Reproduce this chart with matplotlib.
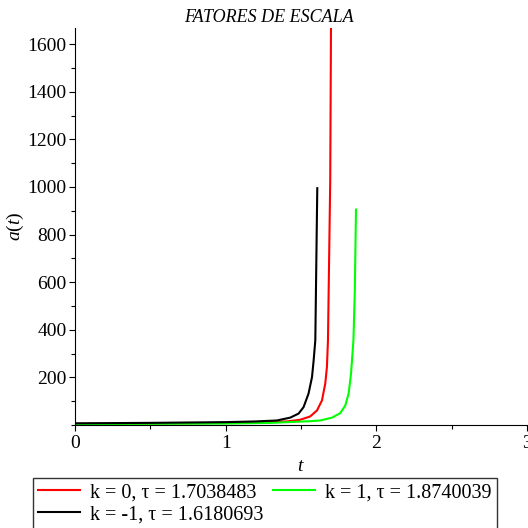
import matplotlib
matplotlib.use("Agg")
import matplotlib.pyplot as plt
from matplotlib.ticker import MultipleLocator

# k = 0
t_k0 = [0.0, 0.5, 1.0, 1.25, 1.407, 1.495, 1.561, 1.606, 1.639, 1.661, 1.672, 1.679, 1.694, 1.699]
a_k0 = [5, 6, 9, 12, 15, 22, 36, 61, 103, 174, 243, 356, 1028, 1668]
# k = 1
t_k1 = [0.0, 0.5, 1.0, 1.3, 1.561, 1.628, 1.706, 1.761, 1.794, 1.816, 1.832, 1.848, 1.857, 1.865]
a_k1 = [4, 5, 6, 9, 16, 19, 31, 50, 82, 132, 216, 356, 560, 905]
# k = -1
t_km1 = [0.0, 0.5, 1.0, 1.2, 1.340, 1.429, 1.484, 1.517, 1.550, 1.573, 1.584, 1.595, 1.608]
a_km1 = [7, 9, 12, 15, 19, 31, 48, 75, 132, 201, 272, 356, 995]

labels = ["k = 0, τ = 1.7038483", "k = 1, τ = 1.8740039", "k = -1, τ = 1.6180693"]
colors = ["#ff0000", "#00ff00", "#000000"]

plt.rcParams['font.family'] = ['Liberation Serif', 'DejaVu Serif']
plt.rcParams['mathtext.fontset'] = 'custom'
plt.rcParams['mathtext.it'] = 'Liberation Serif:italic'
plt.rcParams['mathtext.rm'] = 'Liberation Serif'

fig = plt.figure(figsize=(5.28, 5.28), dpi=100)
ax = fig.add_axes([75/528, 1-425/528, 452/528, (425-28)/528])

handles = []
for t, a, c, l in zip([t_k0, t_k1, t_km1], [a_k0, a_k1, a_km1], colors, labels):
    h, = ax.plot(t, a, color=c, lw=1.5, label=l)
    handles.append(h)

ax.set_xlim(0, 3)
ax.set_ylim(0, 1668)
ax.xaxis.set_major_locator(MultipleLocator(1))
ax.xaxis.set_minor_locator(MultipleLocator(0.5))
ax.set_yticks([200, 400, 600, 800, 1000, 1200, 1400, 1600])
ax.yaxis.set_minor_locator(MultipleLocator(100))
ax.tick_params(labelsize=14, length=4, width=0.8)
ax.tick_params(axis='y', pad=2)
ax.tick_params(which='minor', length=3, width=0.8)
for s in ['top', 'right']:
    ax.spines[s].set_visible(False)

fig.text(269/528, 1-18/528, "FATORES DE ESCALA", fontsize=13, style='italic',
         ha='center', va='center')
ax.set_xlabel("$t$", fontsize=14)
ax.set_ylabel("$a(t)$", fontsize=14, labelpad=1)

# order so that row 1 = k=0, k=1 ; row 2 = k=-1
order = [handles[0], handles[2], handles[1]]
leg = fig.legend(order, [h.get_label() for h in order],
                 loc='upper left', bbox_to_anchor=(33/528, 1-478/528), ncol=2,
                 fontsize=14.5, frameon=True, fancybox=False, edgecolor='black',
                 handlelength=2.1, columnspacing=0.45, borderpad=0.25, labelspacing=0.15,
                 handletextpad=0.5, borderaxespad=0)
leg.get_frame().set_linewidth(1.0)

fig.savefig("out.png", dpi=100)
